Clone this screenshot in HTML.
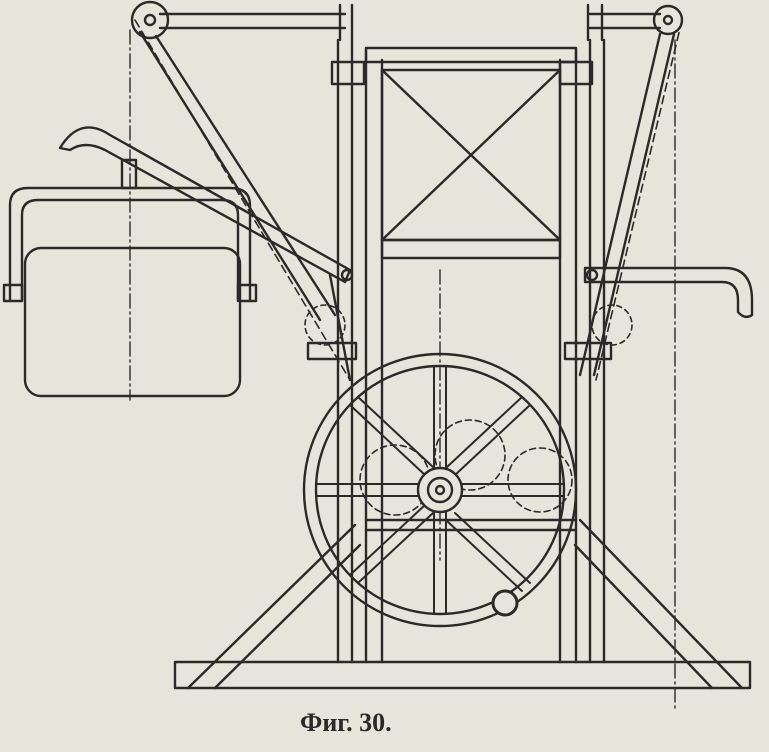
<!DOCTYPE html>
<html><head><meta charset="utf-8"><style>
html,body{margin:0;padding:0;background:#e7e4dc;}
svg{display:block}
</style></head><body>
<svg width="769" height="752" viewBox="0 0 769 752" xmlns="http://www.w3.org/2000/svg">
<rect width="769" height="752" fill="#e7e4dc"/>
<g fill="none" stroke="#2b2a28" stroke-width="2.4" stroke-linecap="round" stroke-linejoin="round">
<!-- base -->
<rect x="175" y="662" width="575" height="26"/>
<!-- diagonal braces -->
<path d="M188 688 L355 525 M215 688 L360 545"/>
<path d="M742 688 L580 520 M712 688 L575 545"/>
<!-- tower posts -->
<path d="M338 40 V662 M352 40 V662 M366 50 V662 M382 60 V662"/>
<path d="M560 60 V662 M576 50 V662 M590 40 V662 M604 40 V662"/>
<!-- tall posts with top arms -->
<path d="M340 5 V40 M352 5 V40 M588 5 V40 M602 5 V40"/>
<!-- top box -->
<rect x="366" y="48" width="210" height="14"/>
<rect x="332" y="62" width="32" height="22"/>
<rect x="560" y="62" width="32" height="22"/>
<!-- X frame -->
<rect x="382" y="70" width="178" height="170"/>
<path d="M382 70 L560 240 M560 70 L382 240"/>
<rect x="382" y="240" width="178" height="18"/>
<!-- middle crossbars -->
<path d="M366 520 H576 M366 530 H576"/>
<!-- top arm left -->
<path d="M160 14 H345 M160 28 H345"/>
<circle cx="150" cy="20" r="18"/><circle cx="150" cy="20" r="5"/>
<path d="M140 32 L320 320 M156 36 L335 315"/>
<path d="M135 20 L350 380" stroke-dasharray="8 5" stroke-width="1.6"/>
<!-- top arm right -->
<path d="M590 14 H660 M590 28 H660"/>
<circle cx="668" cy="20" r="14"/><circle cx="668" cy="20" r="4"/>
<path d="M660 34 L580 375 M674 34 L594 375"/>
<path d="M682 20 L596 380" stroke-dasharray="8 5" stroke-width="1.6"/>
<!-- dash-dot center lines -->
<path d="M130 30 V400 M675 40 V710 M440 270 V560" stroke-dasharray="14 4 2 4" stroke-width="1.4"/>
<!-- left lever -->
<path d="M60 148 Q80 115 110 135 L350 270 L345 282 L105 150 Q85 140 70 150 Z"/>
<circle cx="347" cy="275" r="5"/>
<path d="M330 275 L350 380"/>
<!-- left bucket -->
<rect x="25" y="248" width="215" height="148" rx="16"/>
<path d="M10 300 V205 Q10 188 28 188 H230 Q250 188 250 205 V300"/>
<path d="M22 300 V215 Q22 200 38 200 H222 Q238 200 238 215 V300"/>
<rect x="122" y="160" width="14" height="28"/>
<rect x="4" y="285" width="18" height="16"/><rect x="238" y="285" width="18" height="16"/>
<!-- small bearings left -->
<rect x="308" y="343" width="48" height="16"/>
<circle cx="325" cy="325" r="20" stroke-dasharray="5 4" stroke-width="1.6"/>
<!-- right lever -->
<path d="M585 268 H725 Q752 268 752 300 V315 Q745 320 738 312 V300 Q738 282 722 282 H585 Z"/>
<circle cx="592" cy="275" r="5"/>
<rect x="565" y="343" width="46" height="16"/>
<circle cx="612" cy="325" r="20" stroke-dasharray="5 4" stroke-width="1.6"/>
<!-- dashed gears -->
<circle cx="470" cy="455" r="35" stroke-dasharray="6 4" stroke-width="1.6"/>
<circle cx="395" cy="480" r="35" stroke-dasharray="6 4" stroke-width="1.6"/>
<circle cx="540" cy="480" r="32" stroke-dasharray="6 4" stroke-width="1.6"/>
<!-- wheel -->
<circle cx="440" cy="490" r="136"/>
<circle cx="440" cy="490" r="124"/>
<g stroke-width="2">
<path d="M434 366 L434 470 M446 366 L446 470 M434 510 L434 614 M446 510 L446 614"/>
<path d="M316 484 H420 M316 496 H420 M460 484 H564 M460 496 H564"/>
<path d="M350 405 L425 475 M358 397 L433 467 M455 513 L530 583 M447 521 L522 591"/>
<path d="M522 397 L447 467 M530 405 L455 475 M425 505 L350 575 M433 513 L358 583"/>
</g>
<circle cx="440" cy="490" r="22" fill="#e7e4dc"/>
<circle cx="440" cy="490" r="12"/><circle cx="440" cy="490" r="4"/>
<circle cx="505" cy="603" r="12" stroke-width="3" fill="#e7e4dc"/>
</g>
<text x="300" y="731" font-family="Liberation Serif, serif" font-weight="bold" font-size="26" fill="#2b2a28">Фиг. 30.</text>
</svg>
</body></html>
